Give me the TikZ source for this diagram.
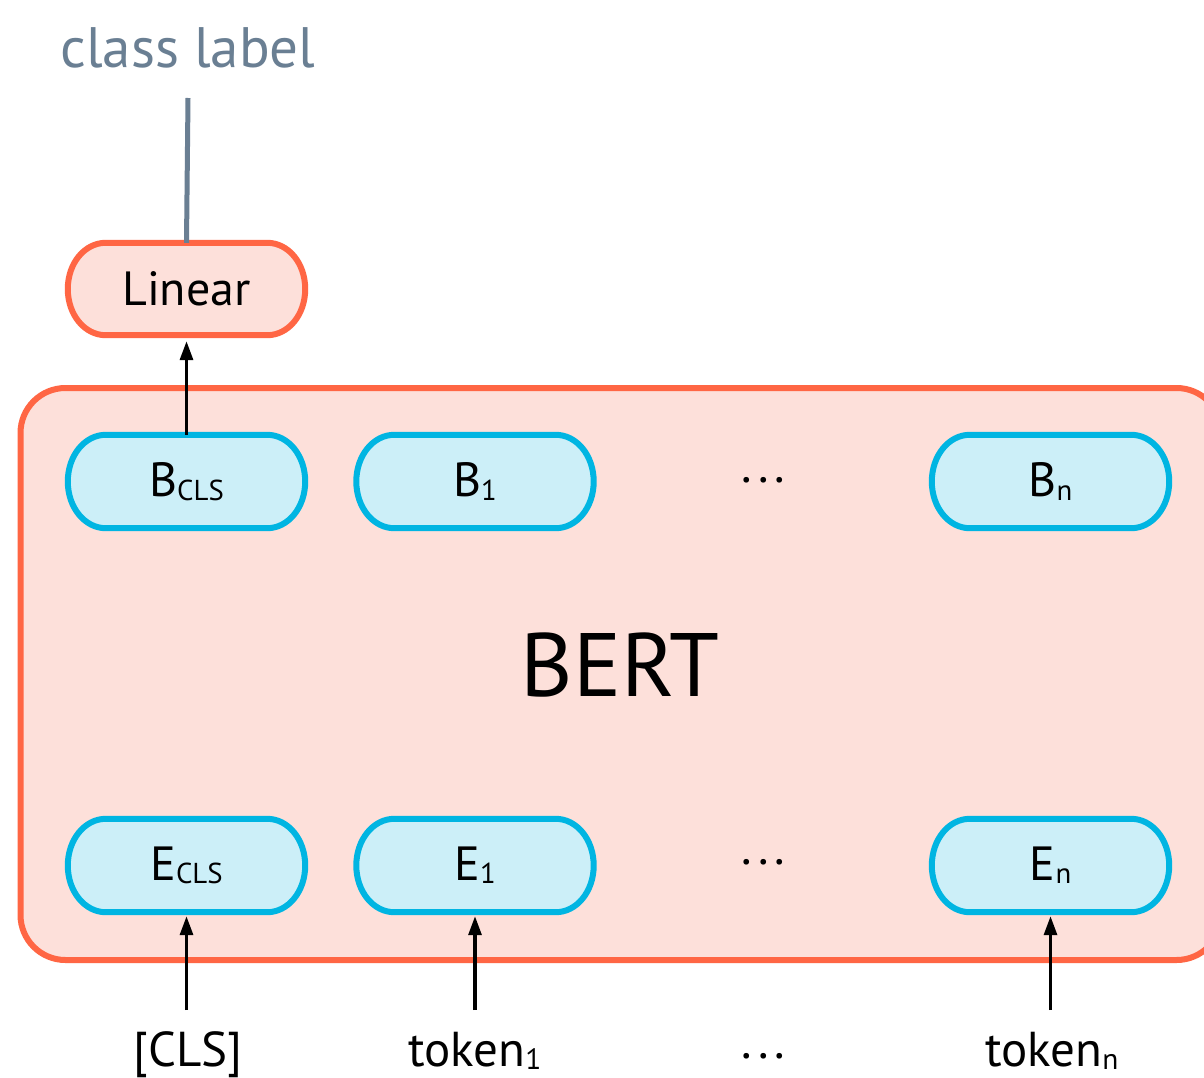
\documentclass[tikz,border=0pt]{standalone}
\usepackage{fontspec}
\usepackage{graphicx}
\setmainfont{PT Sans}
\usetikzlibrary{arrows.meta}
\pgfdeclarelayer{back}
\pgfdeclarelayer{mid}
\pgfsetlayers{back,mid,main}
\definecolor{orng}{HTML}{FF6644}
\definecolor{orfill}{HTML}{FDE0DA}
\definecolor{cyn}{HTML}{00B5E2}
\definecolor{cyfill}{HTML}{CCEFF8}
\definecolor{slate}{HTML}{6A7F93}
\newcommand{\sbx}[1]{\raisebox{-0.07em}{\scalebox{0.6}{#1}}}
\newcommand{\pilldraw}[2]{%
 \draw[#1] ([xshift=38pt]#2.north west) -- ([xshift=-38pt]#2.north east)
   .. controls ([xshift=-17pt]#2.north east) and ([yshift=26pt]#2.east) .. (#2.east)
   .. controls ([yshift=-26pt]#2.east) and ([xshift=-17pt]#2.south east) .. ([xshift=-38pt]#2.south east)
   -- ([xshift=38pt]#2.south west)
   .. controls ([xshift=17pt]#2.south west) and ([yshift=-26pt]#2.west) .. (#2.west)
   .. controls ([yshift=26pt]#2.west) and ([xshift=17pt]#2.north west) .. ([xshift=38pt]#2.north west)
   -- cycle;}
\newcommand{\tdots}{.\kern6pt.\kern6pt.}
\begin{document}
\begin{tikzpicture}[x=1pt,y=-1pt,
  txt/.style={font=\fontsize{49}{60}\selectfont, inner sep=0pt},
  pillnode/.style={minimum width=237pt, minimum height=93pt, inner sep=0pt,
    font=\fontsize{48}{60}\selectfont},
  redpill/.style={draw=orng, fill=orfill, line width=6pt},
  bluepill/.style={draw=cyn, fill=cyfill, line width=6pt},
  arr/.style={line width=3.2pt, -{Triangle[length=19pt,width=13pt]}}
]
\useasboundingbox (0,0) rectangle (1204,1078);

% background and BERT container
\begin{pgfonlayer}{back}
\begin{scope}
\clip (0,0) rectangle (1204,1078);
\fill[white] (0,0) rectangle (1204,1078);
\node[draw=orng, fill=orfill, line width=6pt, rounded corners=45pt,
  minimum width=1201pt, minimum height=572pt, inner sep=0pt] (bert) at (621,674) {};
\end{scope}
\end{pgfonlayer}
\node[font=\fontsize{90}{100}\selectfont, inner sep=0pt] (bertlbl) at (620,665) {BERT};

% Linear
\node[pillnode, minimum height=92pt] (lin) at (186.5,289) {Linear};
\node[font=\fontsize{57}{70}\selectfont, text=slate, inner sep=0pt] (cl) at (188,48) {class label};
\coordinate (clend) at (188,98);

% B row
\node[pillnode] (bcls) at (186.5,481.5) {B\sbx{CLS}};
\node[pillnode] (b1) at (475,481.5) {B\sbx{1}};
\node[pillnode] (bn) at (1050.5,481.5) {B\sbx{n}};
\node[txt] (bdots) at (763.5,480.7) {\tdots};

% E row
\node[pillnode] (ecls) at (186.5,865.5) {E\sbx{CLS}};
\node[pillnode] (e1) at (475,865.5) {E\sbx{1}};
\node[pillnode] (en) at (1050.5,865.5) {E\sbx{n}};
\node[txt] (edots) at (763.5,862) {\tdots};

\begin{pgfonlayer}{mid}
\pilldraw{redpill}{lin}
\pilldraw{bluepill}{bcls}
\pilldraw{bluepill}{b1}
\pilldraw{bluepill}{bn}
\pilldraw{bluepill}{ecls}
\pilldraw{bluepill}{e1}
\pilldraw{bluepill}{en}
\end{pgfonlayer}

% tokens
\node[txt, anchor=base] (tcls) at (188,1066) {[CLS]};
\node[txt, anchor=base] (t1) at (475,1066) {token\sbx{1}};
\node[txt, anchor=base] (tn) at (1052,1066) {token\sbx{n}};
\node[txt] (tdt) at (763.5,1056) {\tdots};
\coordinate (scls) at (186.5,1010);
\coordinate (s1) at (475,1010);
\coordinate (sn) at (1050.5,1010);

% connectors
\draw[slate, line width=5pt] (lin.north) -- (clend);
\draw[arr, shorten >=6pt] (bcls.north) -- (lin.south);
\draw[arr, shorten >=4pt] (scls) -- (ecls.south);
\draw[arr, shorten >=4pt] (s1) -- (e1.south);
\draw[arr, shorten >=4pt] (sn) -- (en.south);
\end{tikzpicture}
\end{document}
